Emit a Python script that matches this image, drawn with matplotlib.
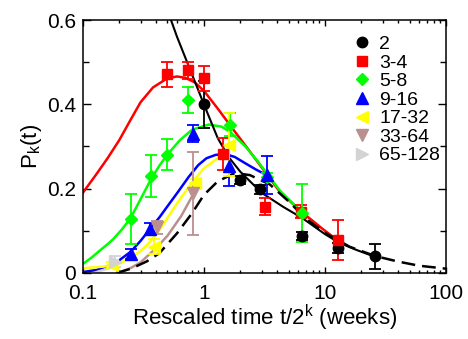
import matplotlib
matplotlib.use('Agg')
import matplotlib.pyplot as plt
from matplotlib.ticker import LogLocator, MultipleLocator, FixedLocator, NullFormatter

plt.rcParams['font.family'] = ['Liberation Sans', 'DejaVu Sans']
plt.rcParams['mathtext.fontset'] = 'custom'
plt.rcParams['mathtext.rm'] = 'Liberation Sans'

# measured points (x = rescaled time, y = P_k(t), e = error)
x_2 = [1.0, 2.0, 2.9, 6.45, 12.8, 25.9]
y_2 = [0.40, 0.221, 0.198, 0.087, 0.059, 0.039]
e_2 = [0.056, 0.01, 0.01, 0.01, 0.012, 0.03]

x_34 = [0.497, 0.741, 1.0, 1.44, 3.19, 6.4, 12.8]
y_34 = [0.471, 0.481, 0.462, 0.281, 0.157, 0.145, 0.078]
e_34 = [0.03, 0.02, 0.03, 0.038, 0.02, 0.015, 0.048]

x_58 = [0.248, 0.365, 0.497, 0.741, 1.64, 3.3, 6.42]
y_58 = [0.128, 0.23, 0.28, 0.41, 0.352, 0.228, 0.142]
e_58 = [0.06, 0.05, 0.037, 0.03, 0.027, 0.01, 0.068]

x_916 = [0.248, 0.358, 0.816, 1.6, 3.3]
y_916 = [0.045, 0.104, 0.33, 0.253, 0.232]
e_916 = [0.012, 0.015, 0.02, 0.047, 0.045]

x_1732 = [0.175, 0.39, 0.842, 1.6]
y_1732 = [0.019, 0.062, 0.213, 0.304]
e_1732 = [0.008, 0.018, 0.01, 0.075]

x_3364 = [0.41, 0.807]
y_3364 = [0.108, 0.189]
e_3364 = [0.015, 0.098]

x_65128 = [0.185]
y_65128 = [0.027]
e_65128 = [0.012]

# fitted curves
fit_red_x = [0.1, 0.13, 0.16, 0.2, 0.25, 0.3, 0.38, 0.5, 0.6, 0.7, 0.84, 1.0, 1.3, 1.75, 2.3, 2.8, 4.25, 6.4, 9.5, 14]
fit_red_y = [0.19, 0.235, 0.272, 0.315, 0.365, 0.405, 0.44, 0.462, 0.466, 0.463, 0.452, 0.432, 0.39, 0.34, 0.295, 0.262, 0.192, 0.145, 0.105, 0.068]
fit_green_x = [0.1, 0.12, 0.138, 0.16, 0.178, 0.21, 0.248, 0.3, 0.365, 0.43, 0.497, 0.634, 0.8, 1.1, 1.4, 1.64, 2.2, 2.8, 4.25, 6.4]
fit_green_y = [0.021, 0.038, 0.053, 0.068, 0.08, 0.103, 0.13, 0.175, 0.222, 0.255, 0.28, 0.315, 0.34, 0.352, 0.347, 0.335, 0.3, 0.264, 0.195, 0.145]
fit_blue_x = [0.1, 0.13, 0.16, 0.2, 0.248, 0.3, 0.358, 0.43, 0.5, 0.6, 0.75, 0.9, 1.05, 1.25, 1.5, 1.8, 2.2, 2.7, 3.3]
fit_blue_y = [0.002, 0.007, 0.016, 0.03, 0.05, 0.076, 0.104, 0.132, 0.158, 0.189, 0.228, 0.256, 0.272, 0.28, 0.282, 0.275, 0.26, 0.245, 0.232]
fit_yellow_x = [0.1, 0.15, 0.2, 0.25, 0.3, 0.35, 0.45, 0.6, 0.8, 1.0, 1.3, 1.6]
fit_yellow_y = [0.011, 0.015, 0.022, 0.036, 0.052, 0.07, 0.11, 0.165, 0.215, 0.248, 0.272, 0.29]
fit_brown_x = [0.2, 0.25, 0.3, 0.4, 0.5, 0.65, 0.81]
fit_brown_y = [0.0, 0.012, 0.025, 0.058, 0.088, 0.135, 0.185]
fit_grey_x = [0.13, 0.16, 0.19]
fit_grey_y = [0.002, 0.01, 0.022]
fit_black_x = [0.45, 0.6, 0.8, 1.0, 1.3, 1.6, 2.0, 3.0, 4.5, 6.5, 10, 13, 18, 26]
fit_black_y = [0.66, 0.56, 0.47, 0.40, 0.32, 0.275, 0.24, 0.19, 0.157, 0.13, 0.092, 0.072, 0.055, 0.038]
scaling_x = [0.19, 0.25, 0.336, 0.43, 0.6, 0.8, 1.0, 1.3, 1.8, 2.4, 3.5, 5, 7, 10, 16, 26, 40, 60, 100]
scaling_y = [0.0, 0.01, 0.027, 0.047, 0.094, 0.142, 0.185, 0.217, 0.237, 0.232, 0.21, 0.17, 0.128, 0.095, 0.062, 0.04, 0.027, 0.017, 0.01]

fig = plt.figure(figsize=(4.68, 3.39), dpi=100)
ax = fig.add_axes([0.177, 0.195, 0.776, 0.746])

lw = 1.8
ax.plot(fit_red_x, fit_red_y, color='red', lw=lw)
ax.plot(fit_green_x, fit_green_y, color='#00ff00', lw=lw)
ax.plot(fit_blue_x, fit_blue_y, color='blue', lw=lw)
ax.plot(fit_yellow_x, fit_yellow_y, color='yellow', lw=lw)
ax.plot(fit_brown_x, fit_brown_y, color='rosybrown', lw=lw)
ax.plot(fit_grey_x, fit_grey_y, color='lightgrey', lw=lw)
ax.plot(scaling_x, scaling_y, color='black', lw=lw, dashes=(5.5, 2.8))
ax.plot(fit_black_x, fit_black_y, color='black', lw=1.5)

series = [
    (x_2, y_2, e_2, 'o', 'black', '2'),
    (x_34, y_34, e_34, 's', 'red', '3-4'),
    (x_58, y_58, e_58, 'D', '#00ff00', '5-8'),
    (x_916, y_916, e_916, '^', 'blue', '9-16'),
    (x_1732, y_1732, e_1732, '<', 'yellow', '17-32'),
    (x_3364, y_3364, e_3364, 'v', 'rosybrown', '33-64'),
    (x_65128, y_65128, e_65128, '>', 'lightgrey', '65-128'),
]
sizes = {'o': 7.5, 's': 7, 'D': 5.8}
handles = []
for x, y, e, m, c, lab in series:
    h = ax.errorbar(x, y, yerr=e, fmt=m, color=c, ms=sizes.get(m, 8), capsize=4.5,
                    elinewidth=1.3, capthick=1.3, label=lab)
    handles.append(h[0])

ax.set_xscale('log')
ax.set_xlim(0.1, 100)
ax.set_ylim(0, 0.6)
ax.yaxis.set_major_locator(FixedLocator([0, 0.2, 0.4, 0.6]))
ax.yaxis.set_minor_locator(MultipleLocator(0.1))
ax.set_yticklabels(['0', '0.2', '0.4', '0.6'])
ax.set_xticks([0.1, 1, 10, 100])
ax.set_xticklabels(['0.1', '1', '10', '100'])
ax.xaxis.set_minor_locator(LogLocator(base=10, subs=range(2, 10)))
ax.xaxis.set_minor_formatter(NullFormatter())
ax.tick_params(which='both', direction='in', top=True, right=True, labelsize=15, width=1)
ax.tick_params(axis='x', which='major', length=4, pad=8)
ax.tick_params(axis='x', which='minor', length=2.5)
ax.tick_params(axis='y', which='major', length=6, pad=5)
ax.tick_params(axis='y', which='minor', length=4)
for s in ax.spines.values():
    s.set_linewidth(1.1)

ax.set_xlabel(r'Rescaled time t/2$^\mathregular{k}$ (weeks)', fontsize=16, labelpad=0)
ax.set_ylabel(r'P$_\mathregular{k}$(t)', fontsize=16, labelpad=2)

ax.legend(handles=handles, labels=[s[5] for s in series], loc='upper right',
          bbox_to_anchor=(1.005, 0.97), frameon=False, fontsize=14,
          handlelength=1, handletextpad=0.4, labelspacing=0.05, borderaxespad=0)

fig.savefig('out.png', dpi=100)
